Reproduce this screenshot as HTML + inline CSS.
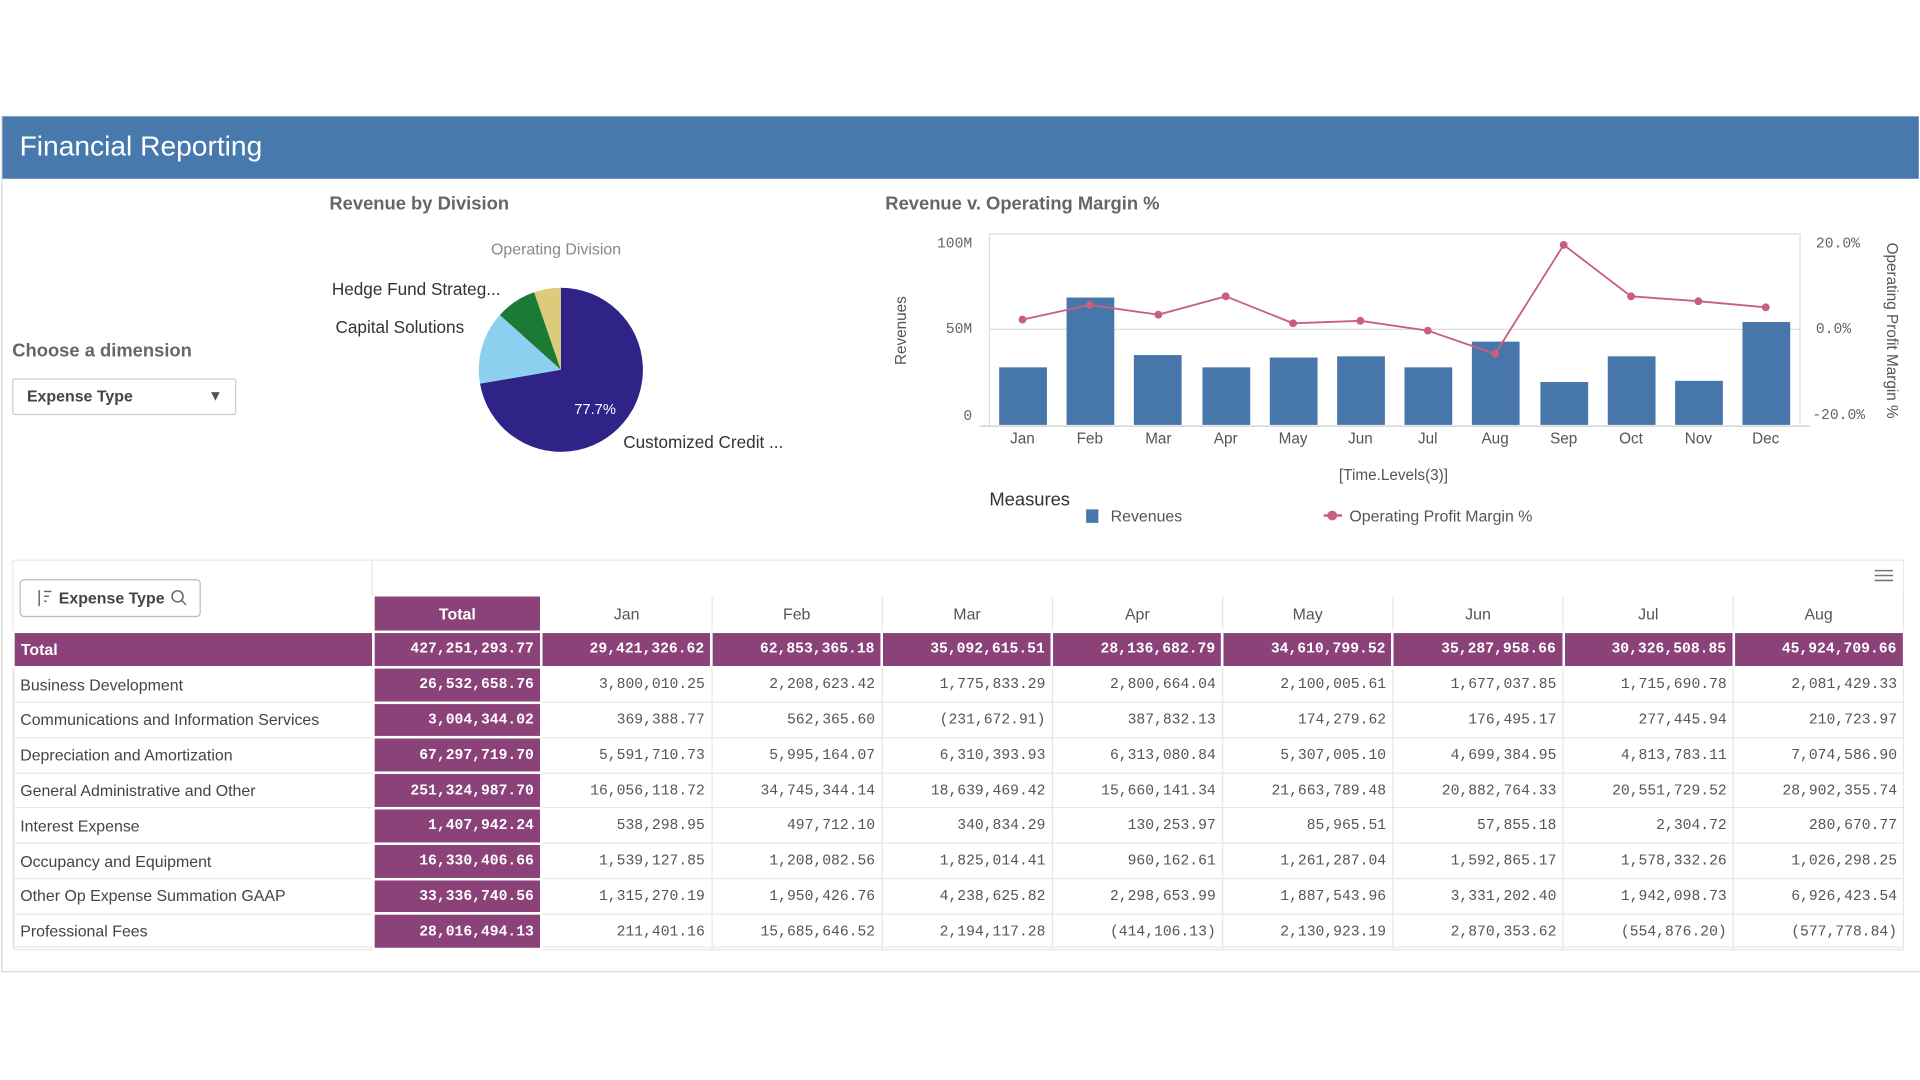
<!DOCTYPE html>
<html><head><meta charset="utf-8"><style>
html,body{margin:0;padding:0;background:#fff;width:1920px;height:1080px;overflow:hidden}
#w{position:absolute;left:0;top:0;width:1568px;height:882px;transform:scale(1.22449);transform-origin:0 0;font-family:"Liberation Sans",sans-serif}
.a{position:absolute;white-space:nowrap}
table{position:absolute;left:10px;top:487px;border-collapse:collapse;table-layout:fixed;width:1544px}
td{height:26.8px;border:1px solid #e6e6e6;padding:0 5px;font-family:"Liberation Mono",monospace;font-size:12px;color:#555;text-align:right;overflow:hidden;white-space:nowrap}
td.l{font-family:"Liberation Sans",sans-serif;font-size:13px;text-align:left;color:#444}
td.p{background:#8a4279;color:#fff;font-weight:bold;border:2px solid #fff}
tr.h td{height:28px;font-family:"Liberation Sans",sans-serif;font-size:13px;text-align:center;color:#555;border-top:none}
tr.h td.p{color:#fff}
tr.t td{background:#8a4279;color:#fff;font-weight:bold;border:2px solid #fff}
tr.t td.l{font-weight:bold;color:#fff}
</style></head><body><div id="w">
<div class="a" style="left:1px;top:95px;width:1566px;height:698px;border:1px solid #d8d8d8;border-top:none"></div>
<div class="a" style="left:2px;top:95px;width:1565px;height:51px;background:#4779ad"></div>
<div class="a" style="left:16px;top:106px;font-size:23px;color:#fff">Financial Reporting</div>

<div class="a" style="left:269px;top:158px;font-size:15px;font-weight:bold;color:#666">Revenue by Division</div>
<div class="a" style="left:401px;top:196px;font-size:13px;color:#888">Operating Division</div>
<div class="a" style="left:271px;top:228px;font-size:14px;color:#333">Hedge Fund Strateg...</div>
<div class="a" style="left:274px;top:259px;font-size:14px;color:#333">Capital Solutions</div>
<div class="a" style="left:509px;top:353px;font-size:14px;color:#333">Customized Credit ...</div>
<svg class="a" style="left:0;top:0" width="1568" height="882">
<g transform="translate(458,302)">
<path d="M0,0 L0,-67 A67,67 0 1 1 -66.0,11.3 Z" fill="#2f2387"/>
<path d="M0,0 L-66.0,11.3 A67,67 0 0 1 -49.8,-44.8 Z" fill="#8ccfee"/>
<path d="M0,0 L-49.8,-44.8 A67,67 0 0 1 -21.8,-63.3 Z" fill="#1b7a33"/>
<path d="M0,0 L-21.8,-63.3 A67,67 0 0 1 0,-67 Z" fill="#dccb7c"/>
</g>
<text x="486" y="338" font-size="12" fill="#fff" text-anchor="middle" font-family="Liberation Sans">77.7%</text>

<g font-family="Liberation Mono" font-size="12" fill="#666">
<line x1="808" y1="191" x2="1470" y2="191" stroke="#ddd"/>
<line x1="808" y1="269" x2="1470" y2="269" stroke="#ddd"/>
<line x1="808" y1="191" x2="808" y2="348" stroke="#ddd"/>
<line x1="1470" y1="191" x2="1470" y2="348" stroke="#ddd"/>
<line x1="800" y1="348" x2="1478" y2="348" stroke="#ccc"/>
<text x="794" y="202" text-anchor="end">100M</text>
<text x="794" y="272" text-anchor="end">50M</text>
<text x="794" y="343" text-anchor="end">0</text>
<text x="1483" y="202">20.0%</text>
<text x="1483" y="272">0.0%</text>
<text x="1480" y="342">-20.0%</text>
</g>
<g fill="#4676aa">
<rect x="816" y="300" width="39" height="47"/>
<rect x="871" y="243" width="39" height="104"/>
<rect x="926" y="290" width="39" height="57"/>
<rect x="982" y="300" width="39" height="47"/>
<rect x="1037" y="292" width="39" height="55"/>
<rect x="1092" y="291" width="39" height="56"/>
<rect x="1147" y="300" width="39" height="47"/>
<rect x="1202" y="279" width="39" height="68"/>
<rect x="1258" y="312" width="39" height="35"/>
<rect x="1313" y="291" width="39" height="56"/>
<rect x="1368" y="311" width="39" height="36"/>
<rect x="1423" y="263" width="39" height="84"/>
</g>
<polyline fill="none" stroke="#c8607c" stroke-width="1.5" points="835,261 890,249 946,257 1001,242 1056,264 1111,262 1166,270 1221,289 1277,200 1332,242 1387,246 1442,251"/>
<g fill="#c8607c">
<circle cx="835" cy="261" r="3.2"/><circle cx="890" cy="249" r="3.2"/><circle cx="946" cy="257" r="3.2"/><circle cx="1001" cy="242" r="3.2"/><circle cx="1056" cy="264" r="3.2"/><circle cx="1111" cy="262" r="3.2"/><circle cx="1166" cy="270" r="3.2"/><circle cx="1221" cy="289" r="3.2"/><circle cx="1277" cy="200" r="3.2"/><circle cx="1332" cy="242" r="3.2"/><circle cx="1387" cy="246" r="3.2"/><circle cx="1442" cy="251" r="3.2"/>
</g>
<g font-family="Liberation Sans" font-size="12.5" fill="#555" text-anchor="middle">
<text x="835" y="362">Jan</text><text x="890" y="362">Feb</text><text x="946" y="362">Mar</text><text x="1001" y="362">Apr</text><text x="1056" y="362">May</text><text x="1111" y="362">Jun</text><text x="1166" y="362">Jul</text><text x="1221" y="362">Aug</text><text x="1277" y="362">Sep</text><text x="1332" y="362">Oct</text><text x="1387" y="362">Nov</text><text x="1442" y="362">Dec</text>
<text x="1138" y="392">[Time.Levels(3)]</text>
<text transform="translate(740,270) rotate(-90)" font-size="12.5">Revenues</text>
<text transform="translate(1541,270) rotate(90)" font-size="12.5">Operating Profit Margin %</text>
</g>
<text x="808" y="413" font-family="Liberation Sans" font-size="15" fill="#333">Measures</text>
<rect x="887" y="416" width="10" height="11" fill="#4676aa"/>
<text x="907" y="426" font-family="Liberation Sans" font-size="13" fill="#555">Revenues</text>
<line x1="1081" y1="421" x2="1096" y2="421" stroke="#c8607c" stroke-width="2"/>
<circle cx="1088" cy="421" r="4" fill="#c8607c"/>
<text x="1102" y="426" font-family="Liberation Sans" font-size="13" fill="#555">Operating Profit Margin %</text>

<rect x="10.5" y="457.5" width="1544" height="316" fill="none" stroke="#e8e8e8"/>
<line x1="304" y1="458" x2="304" y2="487" stroke="#e8e8e8"/>
<g stroke="#777" stroke-width="1.3"><line x1="1531" y1="466" x2="1546" y2="466"/><line x1="1531" y1="470" x2="1546" y2="470"/><line x1="1531" y1="474" x2="1546" y2="474"/></g>
<rect x="16.5" y="473.5" width="147" height="30" rx="3" fill="#fff" stroke="#bbb"/>
<g stroke="#666" stroke-width="1.2" fill="none"><line x1="32" y1="482" x2="32" y2="495"/><line x1="36" y1="483" x2="42" y2="483"/><line x1="36" y1="487" x2="40" y2="487"/><line x1="36" y1="491" x2="38" y2="491"/><circle cx="145" cy="487" r="4.5"/><line x1="148" y1="490" x2="152" y2="494"/></g>
<text x="48" y="493" font-family="Liberation Sans" font-size="13" font-weight="bold" fill="#444">Expense Type</text>
</svg>

<div class="a" style="left:723px;top:158px;font-size:15px;font-weight:bold;color:#666">Revenue v. Operating Margin %</div>
<div class="a" style="left:10px;top:278px;font-size:15px;font-weight:bold;color:#666">Choose a dimension</div>
<div class="a" style="left:10px;top:309px;width:181px;height:28px;border:1px solid #ccc;border-radius:2px"></div>
<div class="a" style="left:22px;top:316px;font-size:13px;font-weight:bold;color:#444">Expense Type</div>
<div class="a" style="left:170px;top:316px;font-size:12px;color:#555">▼</div>

<table>
<colgroup><col style="width:294px"><col style="width:137px"><col span="8" style="width:139.1px"></colgroup>
<tr class="h"><td class="l" style="border:none"></td><td class="p">Total</td><td>Jan</td><td>Feb</td><td>Mar</td><td>Apr</td><td>May</td><td>Jun</td><td>Jul</td><td>Aug</td></tr>
<tr class="t"><td class="l">Total</td><td>427,251,293.77</td><td>29,421,326.62</td><td>62,853,365.18</td><td>35,092,615.51</td><td>28,136,682.79</td><td>34,610,799.52</td><td>35,287,958.66</td><td>30,326,508.85</td><td>45,924,709.66</td></tr>
<tr><td class="l">Business Development</td><td class="p">26,532,658.76</td><td>3,800,010.25</td><td>2,208,623.42</td><td>1,775,833.29</td><td>2,800,664.04</td><td>2,100,005.61</td><td>1,677,037.85</td><td>1,715,690.78</td><td>2,081,429.33</td></tr>
<tr><td class="l">Communications and Information Services</td><td class="p">3,004,344.02</td><td>369,388.77</td><td>562,365.60</td><td>(231,672.91)</td><td>387,832.13</td><td>174,279.62</td><td>176,495.17</td><td>277,445.94</td><td>210,723.97</td></tr>
<tr><td class="l">Depreciation and Amortization</td><td class="p">67,297,719.70</td><td>5,591,710.73</td><td>5,995,164.07</td><td>6,310,393.93</td><td>6,313,080.84</td><td>5,307,005.10</td><td>4,699,384.95</td><td>4,813,783.11</td><td>7,074,586.90</td></tr>
<tr><td class="l">General Administrative and Other</td><td class="p">251,324,987.70</td><td>16,056,118.72</td><td>34,745,344.14</td><td>18,639,469.42</td><td>15,660,141.34</td><td>21,663,789.48</td><td>20,882,764.33</td><td>20,551,729.52</td><td>28,902,355.74</td></tr>
<tr><td class="l">Interest Expense</td><td class="p">1,407,942.24</td><td>538,298.95</td><td>497,712.10</td><td>340,834.29</td><td>130,253.97</td><td>85,965.51</td><td>57,855.18</td><td>2,304.72</td><td>280,670.77</td></tr>
<tr><td class="l">Occupancy and Equipment</td><td class="p">16,330,406.66</td><td>1,539,127.85</td><td>1,208,082.56</td><td>1,825,014.41</td><td>960,162.61</td><td>1,261,287.04</td><td>1,592,865.17</td><td>1,578,332.26</td><td>1,026,298.25</td></tr>
<tr><td class="l">Other Op Expense Summation GAAP</td><td class="p">33,336,740.56</td><td>1,315,270.19</td><td>1,950,426.76</td><td>4,238,625.82</td><td>2,298,653.99</td><td>1,887,543.96</td><td>3,331,202.40</td><td>1,942,098.73</td><td>6,926,423.54</td></tr>
<tr><td class="l">Professional Fees</td><td class="p">28,016,494.13</td><td>211,401.16</td><td>15,685,646.52</td><td>2,194,117.28</td><td>(414,106.13)</td><td>2,130,923.19</td><td>2,870,353.62</td><td>(554,876.20)</td><td>(577,778.84)</td></tr>
</table>
</div></body></html>
